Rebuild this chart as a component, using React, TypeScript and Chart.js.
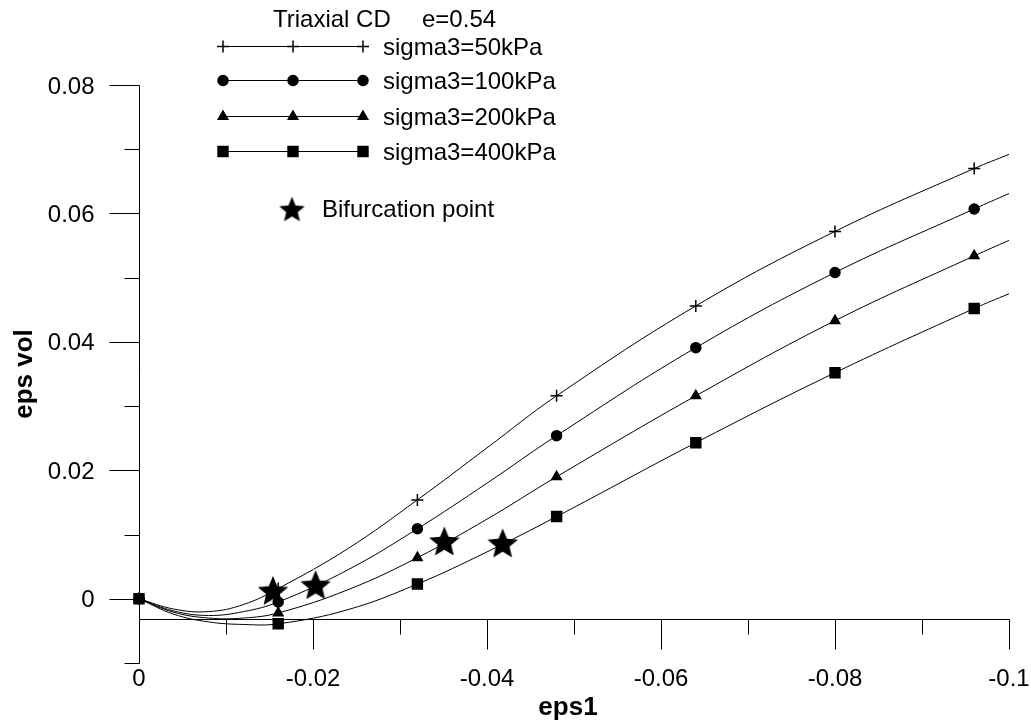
import React, { useEffect, useRef } from 'react';
import { Chart, registerables } from 'chart.js';
import { drawPoint } from 'chart.js/helpers';

Chart.register(...registerables);

// ---------- data ----------
const markerX = [0, -0.016, -0.032, -0.048, -0.064, -0.08, -0.096];
const marker50 = [0, 0.0016, 0.0154, 0.0316, 0.0456, 0.0572, 0.067];
const marker100 = [0, -0.0005, 0.0109, 0.0254, 0.0391, 0.0508, 0.0607];
const marker200 = [0, -0.0022, 0.0064, 0.019, 0.0316, 0.0433, 0.0534];
const marker400 = [0, -0.0039, 0.0023, 0.0128, 0.0243, 0.0352, 0.0452];

const curveX = [0, -0.004, -0.008, -0.012, -0.016, -0.024, -0.032, -0.04, -0.048, -0.064, -0.08, -0.096, -0.1];
const curve50 = [0, -0.0016, -0.002, -0.0009, 0.0016, 0.0078, 0.0154, 0.0235, 0.0316, 0.0456, 0.0572, 0.067, 0.0692];
const curve100 = [0, -0.0019, -0.0026, -0.002, -0.0005, 0.0045, 0.0109, 0.018, 0.0254, 0.0391, 0.0508, 0.0607, 0.0631];
const curve200 = [0, -0.0021, -0.003, -0.003, -0.0022, 0.0014, 0.0064, 0.0124, 0.019, 0.0316, 0.0433, 0.0534, 0.0558];
const curve400 = [0, -0.0024, -0.0036, -0.004, -0.0039, -0.0017, 0.0023, 0.0073, 0.0128, 0.0243, 0.0352, 0.0452, 0.0475];

const starX = [-0.0154, -0.0203, -0.0351, -0.0418];
const starY = [0.0013, 0.0022, 0.009, 0.0087];

const seriesLabels = ['sigma3=50kPa', 'sigma3=100kPa', 'sigma3=200kPa', 'sigma3=400kPa'];
const legendTitle = 'Triaxial CD';
const legendTitle2 = 'e=0.54';
const starLabel = 'Bifurcation point';

const xTitle = 'eps1';
const yTitle = 'eps vol';
const xMajorTicks = [0, -0.02, -0.04, -0.06, -0.08, -0.1];
const xTickLabels = ['0', '-0.02', '-0.04', '-0.06', '-0.08', '-0.1'];
const xMinorTicks = [-0.01, -0.03, -0.05, -0.07, -0.09];
const yMajorTicks = [0, 0.02, 0.04, 0.06, 0.08];
const yTickLabels = ['0', '0.02', '0.04', '0.06', '0.08'];
const yMinorTicks = [-0.01, 0.01, 0.03, 0.05, 0.07];
const X_MIN = -0.1;
const X_MAX = 0;
const Y_MIN = -0.01;
const Y_MAX = 0.08;
const X_AXIS_AT = -0.0031;

// ---------- styles ----------
const FONT = 'Arial, "Liberation Sans", sans-serif';
const pointStyles: any[] = ['cross', 'circle', 'triangle', 'rect'];
const pointRadii = [6, 5, 5.5, 7];

function makeStar(R: number) {
  const size = Math.ceil(R * 2 + 2);
  const c = document.createElement('canvas');
  c.width = size;
  c.height = size;
  const ctx = c.getContext('2d')!;
  const cx = size / 2;
  const cy = size / 2 + R * 0.1;
  const r = R * 0.45;
  ctx.beginPath();
  for (let i = 0; i < 10; i++) {
    const a = -Math.PI / 2 + (i * Math.PI) / 5;
    const rad = i % 2 === 0 ? R : r;
    ctx.lineTo(cx + rad * Math.cos(a), cy + rad * Math.sin(a));
  }
  ctx.closePath();
  ctx.fillStyle = '#000';
  ctx.fill();
  return c;
}

const axesPlugin = {
  id: 'customAxes',
  beforeDatasetsDraw(chart: any) {
    const { ctx, scales } = chart;
    const xs = scales.x;
    const ys = scales.y;
    const px = (v: number) => Math.round(xs.getPixelForValue(v)) + 0.5;
    const py = (v: number) => Math.round(ys.getPixelForValue(v)) + 0.5;
    ctx.save();
    ctx.strokeStyle = '#000';
    ctx.lineWidth = 1;
    const x0 = px(0);
    const line = (a: number, b: number, c: number, d: number) => {
      ctx.beginPath();
      ctx.moveTo(a, b);
      ctx.lineTo(c, d);
      ctx.stroke();
    };
    // y axis
    line(x0, py(Y_MAX), x0, py(Y_MIN));
    yMajorTicks.forEach((v) => line(x0 - 30, py(v), x0, py(v)));
    yMinorTicks.forEach((v) => line(x0 - 15, py(v), x0, py(v)));
    // x axis
    const ya = py(X_AXIS_AT);
    line(px(X_MAX), ya, px(X_MIN), ya);
    xMajorTicks.forEach((v) => line(px(v), ya, px(v), ya + 30));
    xMinorTicks.forEach((v) => line(px(v), ya, px(v), ya + 15));

    ctx.fillStyle = '#000';
    ctx.font = `24px ${FONT}`;
    ctx.textBaseline = 'alphabetic';
    ctx.textAlign = 'right';
    yMajorTicks.forEach((v, i) => ctx.fillText(yTickLabels[i], x0 - 45, ys.getPixelForValue(v) + 8.5));
    ctx.textAlign = 'center';
    xMajorTicks.forEach((v, i) => ctx.fillText(xTickLabels[i], xs.getPixelForValue(v), ya + 66));

    // titles
    ctx.font = `bold 26px ${FONT}`;
    ctx.textAlign = 'center';
    ctx.fillText(xTitle, 568, 715);
    ctx.save();
    ctx.translate(32, (ys.top + ys.bottom) / 2);
    ctx.rotate(-Math.PI / 2);
    ctx.fillText(yTitle, 0, 0);
    ctx.restore();
    ctx.restore();
  },
  afterDraw(chart: any) {
    const { ctx } = chart;
    ctx.save();
    ctx.fillStyle = '#000';
    ctx.strokeStyle = '#000';
    ctx.font = `24px ${FONT}`;
    ctx.textAlign = 'left';
    ctx.textBaseline = 'alphabetic';
    ctx.fillText(legendTitle, 273, 27);
    ctx.fillText(legendTitle2, 422, 27);
    const rows = [46, 80, 116, 151];
    rows.forEach((ry, i) => {
      ctx.lineWidth = 1;
      ctx.beginPath();
      ctx.moveTo(223, ry + 0.5);
      ctx.lineTo(363, ry + 0.5);
      ctx.stroke();
      [223, 293, 363].forEach((mx) => {
        ctx.lineWidth = 1.5;
        drawPoint(ctx, { pointStyle: pointStyles[i], radius: pointRadii[i], rotation: 0, borderWidth: 1.5 } as any, mx, ry + 0.5);
        if (pointStyles[i] !== 'cross') ctx.fill();
      });
      ctx.fillText(seriesLabels[i], 383, ry + 8.5);
    });
    const legendStar = makeStar(13.5);
    ctx.drawImage(legendStar, 292 - legendStar.width / 2, 209 - legendStar.height / 2);
    ctx.fillText(starLabel, 322, 217);
    ctx.restore();
  },
};

export default function App() {
  const ref = useRef<HTMLCanvasElement | null>(null);
  useEffect(() => {
    const canvas = ref.current;
    if (!canvas) return;
    const star = makeStar(16);
    const pts = (xs: number[], ys: number[]) => xs.map((x, i) => ({ x, y: ys[i] }));
    const curves = [curve50, curve100, curve200, curve400];
    const markers = [marker50, marker100, marker200, marker400];
    const datasets: any[] = [];
    datasets.push({
      label: starLabel,
      data: pts(starX, starY),
      showLine: false,
      pointStyle: star,
      pointRadius: 16,
      order: 0,
      clip: false,
    });
    markers.forEach((m, i) => {
      datasets.push({
        label: seriesLabels[i],
        data: pts(markerX, m),
        showLine: false,
        pointStyle: pointStyles[i],
        pointRadius: pointRadii[i],
        pointBorderWidth: 1.5,
        pointBackgroundColor: '#000',
        pointBorderColor: '#000',
        order: 1,
        clip: false,
      });
    });
    curves.forEach((c, i) => {
      datasets.push({
        label: seriesLabels[i] + ' curve',
        data: pts(curveX, c),
        showLine: true,
        borderColor: '#000',
        borderWidth: 1,
        pointRadius: 0,
        tension: 0.4,
        fill: false,
        order: 2,
        clip: false,
      });
    });
    const chart = new Chart(canvas, {
      type: 'scatter',
      data: { datasets },
      options: {
        animation: false,
        responsive: false,
        devicePixelRatio: 1,
        events: [],
        layout: { padding: { left: 139, right: 22, top: 85, bottom: 62 } },
        scales: {
          x: { type: 'linear', min: X_MIN, max: X_MAX, reverse: true, display: false },
          y: { type: 'linear', min: Y_MIN, max: Y_MAX, display: false },
        },
        plugins: { legend: { display: false }, tooltip: { enabled: false } },
      },
      plugins: [axesPlugin],
    } as any);
    return () => chart.destroy();
  }, []);
  return (
    <div style={{ position: 'fixed', left: 0, top: 0, width: 1031, height: 725, background: '#fff' }}>
      <canvas ref={ref} width={1031} height={725} style={{ display: 'block', width: 1031, height: 725 }} />
    </div>
  );
}
